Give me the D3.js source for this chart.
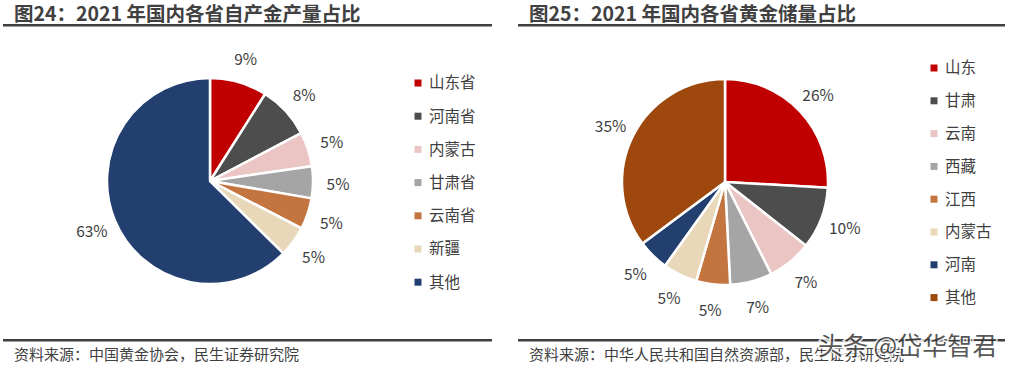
<!DOCTYPE html>
<html>
<head>
<meta charset="utf-8">
<script src="https://cdn.jsdelivr.net/npm/d3@7"></script>
<style>
  body { margin: 0; background: #fff; }
  svg { display: block; font-family: "Microsoft YaHei", "Noto Sans CJK SC", sans-serif; }
</style>
</head>
<body>
<div class="chart"></div>
<script>
// left chart: gold output share by province
const leftNames = ["山东省", "河南省", "内蒙古", "甘肃省", "云南省", "新疆", "其他"];
const leftValues = [9.0, 8.3, 5.4, 5.0, 4.9, 4.8, 62.6];
const leftColors = ["#C00000", "#4D4D4D", "#EBC4C4", "#A5A5A5", "#C4743F", "#E8D7B8", "#223F6F"];

// right chart: gold reserve share by province
const rightNames = ["山东", "甘肃", "云南", "西藏", "江西", "内蒙古", "河南", "其他"];
const rightValues = [25.9, 9.7, 7.0, 6.6, 5.3, 5.4, 4.9, 35.2];
const rightColors = ["#C00000", "#4D4D4D", "#EBC4C4", "#A5A5A5", "#C4743F", "#E8D7B8", "#223F6F", "#9E480E"];

const width = 1017;
const height = 367;
const textColor = "#404040";

const svg = d3.select(".chart")
    .append("svg")
    .attr("width", width)
    .attr("height", height);

// titles, rules, sources
const panels = [
    {x0: 3, x1: 492, titleX: 14, title: "图24：2021 年国内各省自产金产量占比", source: "资料来源：中国黄金协会，民生证券研究院"},
    {x0: 518, x1: 1005, titleX: 529, title: "图25：2021 年国内各省黄金储量占比", source: "资料来源：中华人民共和国自然资源部，民生证券研究院"}
];

panels.forEach(p => {
    svg.append("text")
        .attr("x", p.titleX)
        .attr("y", 21)
        .attr("font-size", 19.5)
        .attr("font-weight", "bold")
        .attr("fill", textColor)
        .text(p.title);
    svg.append("rect")
        .attr("x", p.x0).attr("y", 24)
        .attr("width", p.x1 - p.x0).attr("height", 2.5)
        .attr("fill", "#404040");
    svg.append("rect")
        .attr("x", p.x0).attr("y", 339)
        .attr("width", p.x1 - p.x0).attr("height", 2.5)
        .attr("fill", "#404040");
    svg.append("text")
        .attr("x", p.titleX)
        .attr("y", 360)
        .attr("font-size", 15)
        .attr("fill", textColor)
        .text(p.source);
});

function drawPie(names, values, colors, cx, cy, legendX, legendY, legendStep) {
    const radius = 103;
    const pie = d3.pie().sort(null).value(d => d);
    const arcs = pie(values);
    const arc = d3.arc().innerRadius(0).outerRadius(radius);

    const g = svg.append("g").attr("transform", `translate(${cx},${cy})`);

    g.selectAll(".slice")
        .data(arcs)
        .enter()
        .append("path")
        .attr("class", "slice")
        .attr("d", arc)
        .attr("fill", (d, i) => colors[i])
        .attr("stroke", "#fff")
        .attr("stroke-width", 2.5)
        .attr("stroke-linejoin", "round");

    // percent labels outside the pie
    const labelArc = d3.arc().innerRadius(128).outerRadius(128);
    g.selectAll(".pct")
        .data(arcs)
        .enter()
        .append("text")
        .attr("class", "pct")
        .attr("x", d => labelArc.centroid(d)[0])
        .attr("y", d => labelArc.centroid(d)[1])
        .attr("dy", "0.45em")
        .attr("text-anchor", "middle")
        .attr("font-size", 15.5)
        .attr("fill", textColor)
        .text(d => Math.round(d.data) + "%");

    // legend
    const leg = svg.append("g");
    leg.selectAll(".leg-box")
        .data(names)
        .enter()
        .append("rect")
        .attr("class", "leg-box")
        .attr("x", legendX - 3.5)
        .attr("y", (d, i) => legendY + i * legendStep - 3.5)
        .attr("width", 7)
        .attr("height", 7)
        .attr("fill", (d, i) => colors[i]);
    leg.selectAll(".leg-text")
        .data(names)
        .enter()
        .append("text")
        .attr("class", "leg-text")
        .attr("x", legendX + 11)
        .attr("y", (d, i) => legendY + i * legendStep)
        .attr("dy", "0.35em")
        .attr("font-size", 15.5)
        .attr("fill", textColor)
        .text(d => d);
}

drawPie(leftNames, leftValues, leftColors, 210, 181, 418, 83, 33.2);
drawPie(rightNames, rightValues, rightColors, 725, 182, 934, 68, 32.8);

// watermark
svg.append("text")
    .attr("x", 818)
    .attr("y", 355)
    .attr("font-size", 25)
    .attr("fill", "#3a3a3a")
    .attr("stroke", "#fff")
    .attr("stroke-width", 3)
    .attr("paint-order", "stroke")
    .attr("opacity", 0.85)
    .text("头条 @岱华智君");
</script>
</body>
</html>
